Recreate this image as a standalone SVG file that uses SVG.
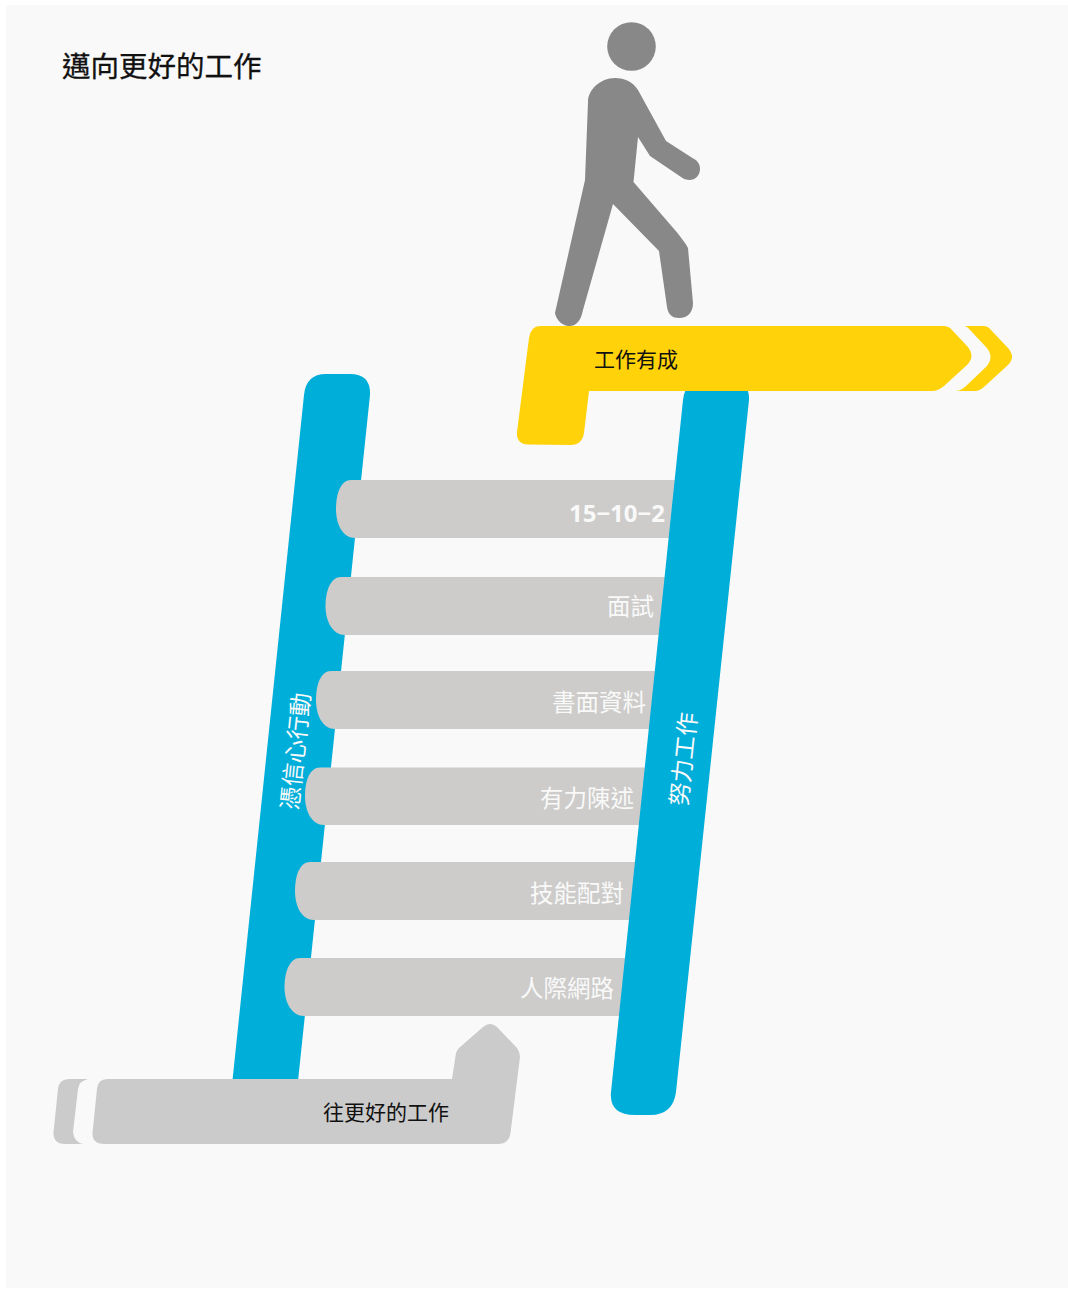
<svg xmlns="http://www.w3.org/2000/svg" width="1068" height="1289" viewBox="0 0 1068 1289">
<style>
text{font-family:"Noto Sans CJK TC","Noto Sans",sans-serif}
.rung{fill:#cdccca}
.rt{fill:#f9f9f9;font-size:23.500px;text-anchor:end}
.num{font-family:"Open Sans","Noto Sans",sans-serif;font-weight:700;font-size:24px}
.bar{fill:#00aeda}
.bt{fill:#f9f9f9;font-size:23.500px;text-anchor:middle;dominant-baseline:central}
.dark{fill:#111;font-size:21px}
.yellow{fill:#ffd209}
.grey{fill:#cbcbcb}
</style>
<rect width="1068" height="1289" fill="#fff"/>
<rect x="6" y="5" width="1062" height="1283" fill="#f9f9f9"/>
<text id="title" x="62" y="77" font-size="28.5" fill="#111" stroke="#111" stroke-width="0.3">邁向更好的工作</text>
<g id="left-rail">
<path class="bar" d="M304,395Q306,374 326,374L350,374Q371,374 370,395L297.6,1085L232,1085Z"/>
<text class="bt" transform="translate(294,751) rotate(-84)">憑信心行動</text>
</g>
<g id="rung-6"><path class="rung" d="M300,958L640,958L640,1016L304,1016C292,1016 284.500,1003 284.500,987C284.500,971 290,958 300,958Z"/><text class="rt" x="614" y="997">人際網路</text></g>
<g id="rung-5"><path class="rung" d="M310,862L650,862L650,920L314,920C302,920 295,907 295,891C295,875 300,862 310,862Z"/><text class="rt" x="624" y="902">技能配對</text></g>
<g id="rung-4"><path class="rung" d="M320,767.500L660,767.500L660,825L324,825C312,825 305,812 305,796C305,780 310,767.500 320,767.500Z"/><text class="rt" x="634" y="807">有力陳述</text></g>
<g id="rung-3"><path class="rung" d="M331,671L670,671L670,729L335,729C323,729 316,716 316,700C316,684 321,671 331,671Z"/><text class="rt" x="646" y="711">書面資料</text></g>
<g id="rung-2"><path class="rung" d="M341,577L680,577L680,635L345,635C333,635 325.500,622 325.500,606C325.500,590 331,577 341,577Z"/><text class="rt" x="654" y="615">面試</text></g>
<g id="rung-1"><path class="rung" d="M351,480L690,480L690,538L355,538C343,538 336,525 336,509C336,493 341,480 351,480Z"/><text class="rt num" x="665" y="521.500">15−10−2</text></g>
<g id="right-rail">
<path class="bar" d="M683,400Q685,380 705,380L728,380Q750,380 749,400L676,1092Q673,1115 650,1115L635,1115Q609,1115 611,1092Z"/>
<text class="bt" transform="translate(682,759) rotate(-84)">努力工作</text>
</g>
<g id="arrow-up">
<path class="yellow" d="M540,326L943,326Q949,326 952,330L967,346Q976,356 967,365L944,386Q938,391 932,391L589,391L584,433Q582,445 571,445L528,444.500Q516,444 517,432L529,338Q531,326 540,326Z"/>
<path class="yellow" d="M964,326L983,326Q988,326 991,330L1008,348Q1016,357 1008,365L985,386Q980,391 975,391L955,391Q961,391 966,386L986,367Q995,357 986,347L970,330Q967,326 964,326Z"/>
<text class="dark" x="594" y="367">工作有成</text>
</g>
<g id="arrow-better">
<path class="grey" d="M88,1079L69,1079Q59,1079 58,1089L53.500,1132Q53,1144 65,1144L83,1144Q74,1142 73,1132L78,1089Q79,1081 88,1079Z"/>
<path class="grey" d="M107,1079L452,1079L456,1053Q457,1050 459,1048L483,1027Q490,1021 497,1027L517,1048Q520,1052 520,1057L510.500,1133Q509,1144 498,1144L104,1144Q92,1144 92.500,1133L97,1089Q98,1079 107,1079Z"/>
<text class="dark" x="323" y="1120">往更好的工作</text>
</g>
<g id="person" fill="#888">
<circle cx="631.500" cy="46.500" r="24.300"/>
<path d="M615,78C600,78 588,90 588,102L585,180L555,313C556,320 563,326 569,326C577,326 581,320 583,310L613,204L659,251L667,307C668,315 673,318 679,318C688,318 693,312 693,303L688,248C685,242 681,238 677.500,233L633.500,182L638,137L650,156L682.500,178C691,183 700,178 700,169C700,165 698,161 694,159L666,141L638,90C633,82 625,78 615,78Z"/>
</g>
</svg>
